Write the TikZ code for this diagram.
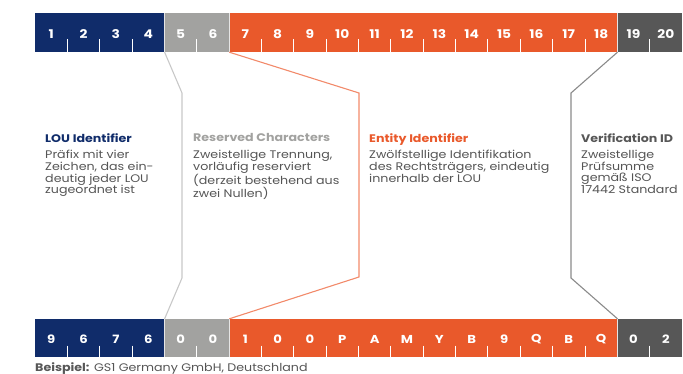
\documentclass[tikz,border=0pt]{standalone}
\usepackage{fontspec}
\setmainfont{Poppins}[FakeStretch=1.15]
\definecolor{navy}{HTML}{102C6A}
\definecolor{lgrey}{HTML}{A2A2A0}
\definecolor{orng}{HTML}{E9592B}
\definecolor{dgrey}{HTML}{575757}
\definecolor{txtgrey}{HTML}{555555}
\definecolor{lgline}{HTML}{C8C8C8}
\definecolor{orline}{HTML}{F28A6A}
\definecolor{dgline}{HTML}{8A8A8A}
\begin{document}
\begin{tikzpicture}[x=1pt,y=-1pt,
  grp/.style={rectangle,inner sep=0pt,minimum height=39pt,draw=none},
  digit/.style={inner sep=0pt,text=white,font=\fontsize{12}{13}\selectfont\bfseries},
  chr/.style={inner sep=0pt,text=white,font=\fontsize{11.5}{13}\selectfont\bfseries},
  tick/.style={draw=white,line width=0.9pt},
  conn/.style={line width=1.1pt,line join=miter},
  ttl/.style={anchor=north west,inner sep=0pt,align=left,font=\fontsize{11}{11.7}\selectfont\bfseries},
  body/.style={anchor=north west,inner sep=0pt,align=left,text=txtgrey,font=\fontsize{11}{11.7}\selectfont}]
\useasboundingbox (0,0) rectangle (683,374);
\def\w{32.35}
% top bar groups
\node[grp,fill=navy,minimum width=4*\w pt] (tA) at (35+2*\w,32.5) {};
\node[grp,fill=lgrey,minimum width=2*\w pt] (tB) at (35+5*\w,32.5) {};
\node[grp,fill=orng,minimum width=12*\w pt] (tC) at (35+12*\w,32.5) {};
\node[grp,fill=dgrey,minimum width=2*\w pt] (tD) at (35+19*\w,32.5) {};
% bottom bar groups
\node[grp,fill=navy,minimum width=4*\w pt,minimum height=38pt] (bA) at (35+2*\w,338) {};
\node[grp,fill=lgrey,minimum width=2*\w pt,minimum height=38pt] (bB) at (35+5*\w,338) {};
\node[grp,fill=orng,minimum width=12*\w pt,minimum height=38pt] (bC) at (35+12*\w,338) {};
\node[grp,fill=dgrey,minimum width=2*\w pt,minimum height=38pt] (bD) at (35+19*\w,338) {};
% thin separators between groups
\foreach \g in {tA,tB,tC,bA,bB,bC}{\draw[draw=white!80!gray,line width=0.5pt] (\g.north east) -- (\g.south east);}
% digits
\foreach \i in {1,...,20}{
  \node[digit] (d\i) at (35+\i*\w-0.5*\w,34) {\i};
}
\foreach \c [count=\i] in {9,6,7,6,0,0,1,0,0,P,A,M,Y,B,9,Q,B,Q,0,2}{
  \node[chr] (c\i) at (35+\i*\w-0.5*\w,339.5) {\c};
}
% ticks
\foreach \i in {1,2,3,5,7,8,9,10,11,12,13,14,15,16,17,19}{
  \draw[tick] (35+\i*\w,39) -- (35+\i*\w,52.5);
  \draw[tick] (35+\i*\w,345.5) -- (35+\i*\w,357.5);
}
% connectors
\coordinate (g1) at (182,93);
\coordinate (g2) at (182,278);
\coordinate (o1) at (359,93);
\coordinate (o2) at (359,277);
\coordinate (v1) at (571,93);
\coordinate (v2) at (571,278);
\draw[conn,lgline] (tA.south east) -- (g1) -- (g2) -- (bA.north east);
\draw[conn,orline] (tB.south east) -- (o1) -- (o2) -- (bB.north east);
\draw[conn,dgline] (tC.south east) -- (v1) -- (v2) -- (bC.north east);
% texts
\node[ttl,text=navy] (h1) at (45,133) {LOU Identifier};
\node[body] (p1) at (45,150) {Präfix mit vier\\Zeichen, das ein-\\deutig jeder LOU\\zugeordnet ist};
\node[ttl,text=lgrey] (h2) at (193,133) {Reserved Characters};
\node[body] (p2) at (193,150) {Zweistellige Trennung,\\vorläufig reserviert\\(derzeit bestehend aus\\zwei Nullen)};
\node[ttl,text=orng] (h3) at (369,133) {Entity Identifier};
\node[body] (p3) at (369,150) {Zwölfstellige Identifikation\\des Rechtsträgers, eindeutig\\innerhalb der LOU};
\node[ttl,text=dgrey] (h4) at (581,133) {Verification ID};
\node[body] (p4) at (581,150) {Zweistellige\\Prüfsumme\\gemäß ISO\\17442 Standard};
\node[anchor=north west,inner sep=0pt,text=txtgrey,font=\fontsize{11}{11.7}\selectfont] (ex) at (35,362) {\textbf{\color{dgrey}Beispiel:} GS1 Germany GmbH, Deutschland};
\end{tikzpicture}
\end{document}
